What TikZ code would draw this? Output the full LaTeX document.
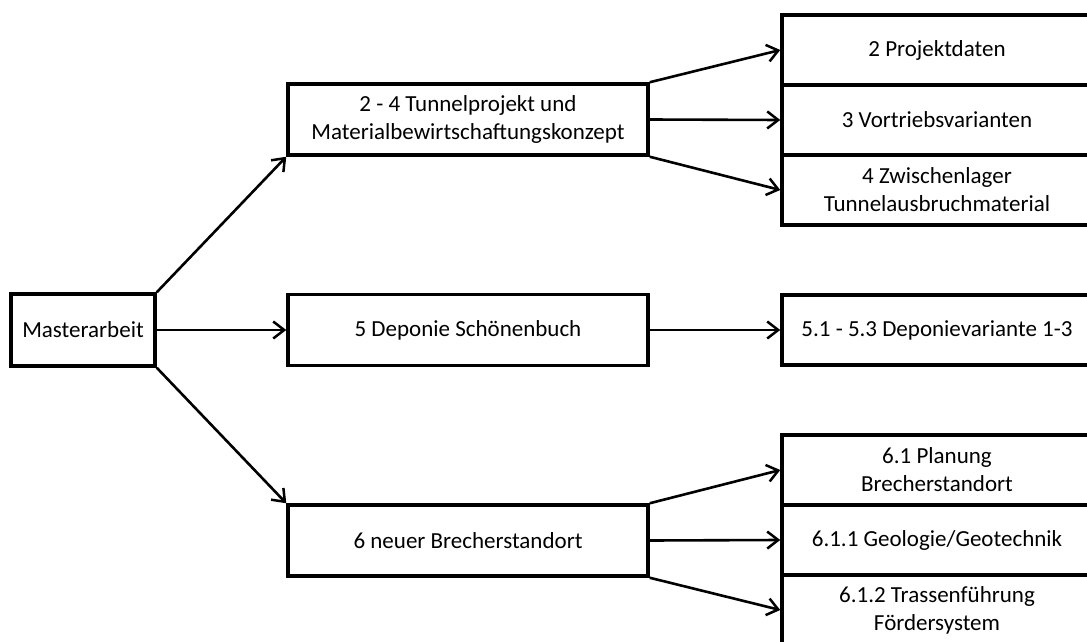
\documentclass[tikz,border=0pt]{standalone}
\usepackage{fontspec}
\setmainfont{Carlito}
\usetikzlibrary{arrows.meta}

\begin{document}
\begin{tikzpicture}[x=1pt, y=-1pt,
    box/.style={draw=black, line width=3.5pt, align=center, inner sep=0pt,
      font=\fontsize{23}{28}\selectfont},
    mainbox/.style={box, minimum width=360pt, minimum height=71pt},
    subbox/.style={box, minimum width=310pt, minimum height=70pt},
    arr/.style={-{Straight Barb[length=11pt, width=17pt, line width=2.5pt]}, line width=2.6pt}]
  \clip (0,0) rectangle (1087,642);

  \node[box, minimum width=144pt, minimum height=72pt] (master) at (83,330) {Masterarbeit};

  \node[mainbox] (tunnel) at (468,119.5) {2 - 4 Tunnelprojekt und\\Materialbewirtschaftungskonzept};
  \node[mainbox] (deponie) at (468,330) {5 Deponie Schönenbuch};
  \node[mainbox] (brecher) at (468,540.5) {6 neuer Brecherstandort};

  \node[subbox] (daten) at (937,50) {2 Projektdaten};
  \node[subbox] (vortrieb) at (937,120) {3 Vortriebsvarianten};
  \node[subbox] (lager) at (937,190) {4 Zwischenlager\\Tunnelausbruchmaterial};

  \node[subbox] (varianten) at (937,330) {5.1 - 5.3 Deponievariante 1-3};

  \node[subbox] (planung) at (937,470) {6.1 Planung\\Brecherstandort};
  \node[subbox] (geologie) at (937,540) {6.1.1 Geologie/Geotechnik};
  \node[subbox] (trasse) at (937,610) {6.1.2 Trassenführung\\Fördersystem};

  % level 1
  \draw[arr] (master.north east) -- (tunnel.south west);
  \draw[arr] (master.east) -- (deponie.west);
  \draw[arr] (master.south east) -- (brecher.north west);

  % level 2
  \draw[arr] (tunnel.north east) -- (daten.west);
  \draw[arr] (tunnel.east) -- (vortrieb.west);
  \draw[arr] (tunnel.south east) -- (lager.west);
  \draw[arr] (deponie.east) -- (varianten.west);
  \draw[arr] (brecher.north east) -- (planung.west);
  \draw[arr] (brecher.east) -- (geologie.west);
  \draw[arr] (brecher.south east) -- (trasse.west);
\end{tikzpicture}
\end{document}
